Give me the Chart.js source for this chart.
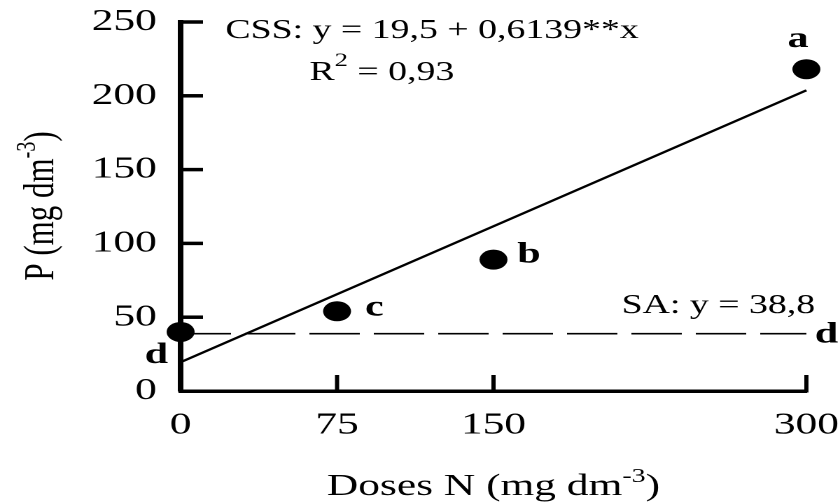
<!DOCTYPE html>
<html>
<head>
<meta charset="utf-8">
<script src="https://cdn.jsdelivr.net/npm/chart.js@4.4.1/dist/chart.umd.min.js"></script>
<style>
  html, body { margin: 0; padding: 0; background: #fff; overflow: hidden; }
  /* the source figure is stretched horizontally, so draw narrow and widen */
  #wrap { width: 600px; height: 503px; transform: scaleX(1.4); transform-origin: 0 0; }
</style>
</head>
<body>
<div id="wrap"><canvas id="myChart"></canvas></div>
<script>
  const doses = [0, 75, 150, 300]
  const pValues = [40, 54, 89, 218]
  const letters = ['d', 'c', 'b', 'a']
  const fitX = [0, 300]
  const fitY = [19.5, 203.7]
  const saY = [38.8, 38.8]
  const xTicks = [0, 75, 150, 300]
  const yTicks = [0, 50, 100, 150, 200, 250]

  const serif = '"Liberation Serif", "Times New Roman", serif'

  function drawRich(ctx, parts, x, y, align) {
    let w = 0
    parts.forEach(p => { ctx.font = p.font; w += ctx.measureText(p.text).width })
    let cx = align === 'center' ? x - w / 2 : x
    parts.forEach(p => {
      ctx.font = p.font
      ctx.fillText(p.text, cx, y + (p.dy || 0))
      cx += ctx.measureText(p.text).width
    })
  }

  const decorations = {
    id: 'decorations',
    afterDraw(chart) {
      const { ctx, chartArea, scales: { x, y } } = chart
      ctx.save()
      ctx.strokeStyle = '#000'
      ctx.fillStyle = '#000'

      // inward tick marks
      ctx.lineWidth = 3.5
      yTicks.slice(1).forEach(v => {
        const py = y.getPixelForValue(v)
        ctx.beginPath()
        ctx.moveTo(chartArea.left, py)
        ctx.lineTo(chartArea.left + 16, py)
        ctx.stroke()
      })
      ctx.lineWidth = 3
      xTicks.slice(1).forEach(v => {
        const px = x.getPixelForValue(v)
        ctx.beginPath()
        ctx.moveTo(px, chartArea.bottom + 1.5)
        ctx.lineTo(px, chartArea.bottom - 16)
        ctx.stroke()
      })

      // significance letters
      ctx.textBaseline = 'alphabetic'
      ctx.font = 'bold 30px ' + serif
      const pts = chart.getDatasetMeta(0).data
      const off = [[-9, 31, 'right'], [20, 4, 'left'], [17, 3, 'left'], [-6, -22, 'center']]
      pts.forEach((p, i) => {
        ctx.textAlign = off[i][2]
        ctx.fillText(letters[i], p.x + off[i][0], p.y + off[i][1])
      })
      ctx.textAlign = 'left'
      ctx.fillText('d', x.getPixelForValue(fitX[1]) + 6, y.getPixelForValue(saY[1]) + 9)

      // equations
      const f27 = '27px ' + serif
      ctx.font = f27
      ctx.fillText('CSS: y = 19,5 + 0,6139**x', 161, 38)
      drawRich(ctx, [
        { text: 'R', font: f27 },
        { text: '2', font: '19px ' + serif, dy: -14 },
        { text: ' = 0,93', font: f27 }
      ], 221, 80)
      ctx.font = f27
      ctx.fillText('SA: y = 38,8', 444, 313)

      // axis titles
      const f31 = '31px ' + serif
      const f20 = '20px ' + serif
      drawRich(ctx, [
        { text: 'Doses N (mg dm', font: f31 },
        { text: '-3', font: f20, dy: -13 },
        { text: ')', font: f31 }
      ], (chartArea.left + chartArea.right) / 2, 495, 'center')

      ctx.translate(38, 206)
      ctx.rotate(-Math.PI / 2)
      drawRich(ctx, [
        { text: 'P (mg dm', font: f31 },
        { text: '-3', font: f20, dy: -13 },
        { text: ')', font: f31 }
      ], 0, 0, 'center')
      ctx.restore()
    }
  }

  const ctx = document.getElementById('myChart')
  // eslint-disable-next-line no-unused-vars
  const myChart = new Chart(ctx, {
    type: 'scatter',
    data: {
      datasets: [{
        data: doses.map((d, i) => ({ x: d, y: pValues[i] })),
        pointRadius: 10,
        pointBackgroundColor: '#000',
        pointBorderWidth: 0,
        clip: false
      }, {
        data: fitX.map((d, i) => ({ x: d, y: fitY[i] })),
        showLine: true,
        borderColor: '#000',
        borderWidth: 2.2,
        pointRadius: 0,
        clip: false
      }, {
        data: fitX.map((d, i) => ({ x: d, y: saY[i] })),
        showLine: true,
        borderColor: '#000',
        borderWidth: 1.6,
        borderDash: [36, 10],
        pointRadius: 0,
        clip: false
      }]
    },
    options: {
      responsive: true,
      maintainAspectRatio: false,
      animation: false,
      devicePixelRatio: 2,
      layout: { autoPadding: false, padding: { top: 22, right: 24, left: 0, bottom: 0 } },
      scales: {
        x: {
          type: 'linear',
          min: 0,
          max: 300,
          afterBuildTicks: s => { s.ticks = xTicks.map(v => ({ value: v })) },
          afterFit: s => { s.height = 112; s.paddingLeft = 0; s.paddingRight = 0 },
          grid: { display: false, drawTicks: false },
          border: { display: true, color: '#000', width: 3.5 },
          ticks: { color: '#000', font: { family: serif, size: 31 }, padding: 16, maxRotation: 0 }
        },
        y: {
          min: 0,
          max: 250,
          afterBuildTicks: s => { s.ticks = yTicks.map(v => ({ value: v })) },
          afterFit: s => { s.width = 129; s.paddingTop = 0; s.paddingBottom = 0 },
          grid: { display: false, drawTicks: false },
          border: { display: true, color: '#000', width: 4 },
          ticks: { color: '#000', font: { family: serif, size: 31 }, padding: 17 }
        }
      },
      plugins: {
        legend: { display: false },
        tooltip: { enabled: false }
      }
    },
    plugins: [decorations]
  })
</script>
</body>
</html>
